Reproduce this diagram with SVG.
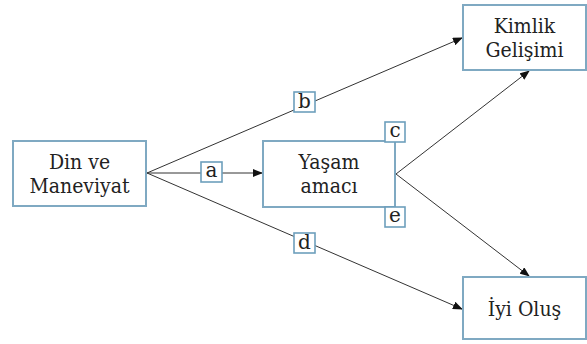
<svg xmlns="http://www.w3.org/2000/svg" width="587" height="344" viewBox="0 0 587 344">
<defs>
<style>
.box{fill:#fff;stroke:#7fa9c2;stroke-width:2}
.lbl{fill:#fff;stroke:#6d9fbc;stroke-width:1.6}
.t{font-family:"DejaVu Serif Condensed","DejaVu Serif",serif;font-size:21px;fill:#222;text-anchor:middle}
.lt{font-family:"DejaVu Serif","Liberation Serif",serif;font-size:20px;fill:#222;text-anchor:middle}
.ln{stroke:#333;stroke-width:1;fill:none}
</style>
<marker id="ah" markerWidth="10" markerHeight="8" refX="9" refY="4" orient="auto" markerUnits="userSpaceOnUse">
<path d="M0,0 L10,4 L0,8 z" fill="#111"/>
</marker>
</defs>
<rect width="587" height="344" fill="#fff"/>
<g id="connectors">
<line class="ln" x1="147" y1="173" x2="462" y2="38" marker-end="url(#ah)"/>
<line class="ln" x1="147" y1="173" x2="262" y2="173" marker-end="url(#ah)"/>
<line class="ln" x1="147" y1="173" x2="462" y2="309" marker-end="url(#ah)"/>
<line class="ln" x1="396" y1="174" x2="529" y2="71" marker-end="url(#ah)"/>
<line class="ln" x1="396" y1="174" x2="529" y2="276" marker-end="url(#ah)"/>
</g>
<g id="din">
<rect class="box" x="13" y="141" width="133" height="65"/>
<text class="t" x="79.5" y="169">Din ve</text>
<text class="t" x="79.5" y="193">Maneviyat</text>
</g>
<g id="yasam">
<rect class="box" x="263" y="141" width="132" height="66"/>
<text class="t" x="329" y="169">Yaşam</text>
<text class="t" x="329" y="193">amacı</text>
</g>
<g id="kimlik">
<rect class="box" x="463" y="5" width="123" height="65"/>
<text class="t" x="524.5" y="33">Kimlik</text>
<text class="t" x="524.5" y="57">Gelişimi</text>
</g>
<g id="iyi">
<rect class="box" x="463" y="277" width="123" height="62"/>
<text class="t" x="524.5" y="316">İyi Oluş</text>
</g>
<g id="label-a">
<rect class="lbl" x="201" y="162" width="21" height="20"/>
<text class="lt" x="211.5" y="177">a</text>
</g>
<g id="label-b">
<rect class="lbl" x="294" y="92" width="21" height="20"/>
<text class="lt" x="304.5" y="108">b</text>
</g>
<g id="label-c">
<rect class="lbl" x="385" y="122" width="20" height="20"/>
<text class="lt" x="395" y="137">c</text>
</g>
<g id="label-d">
<rect class="lbl" x="294" y="233" width="21" height="20"/>
<text class="lt" x="304.5" y="249">d</text>
</g>
<g id="label-e">
<rect class="lbl" x="385" y="207" width="20" height="20"/>
<text class="lt" x="395" y="222">e</text>
</g>
</svg>
